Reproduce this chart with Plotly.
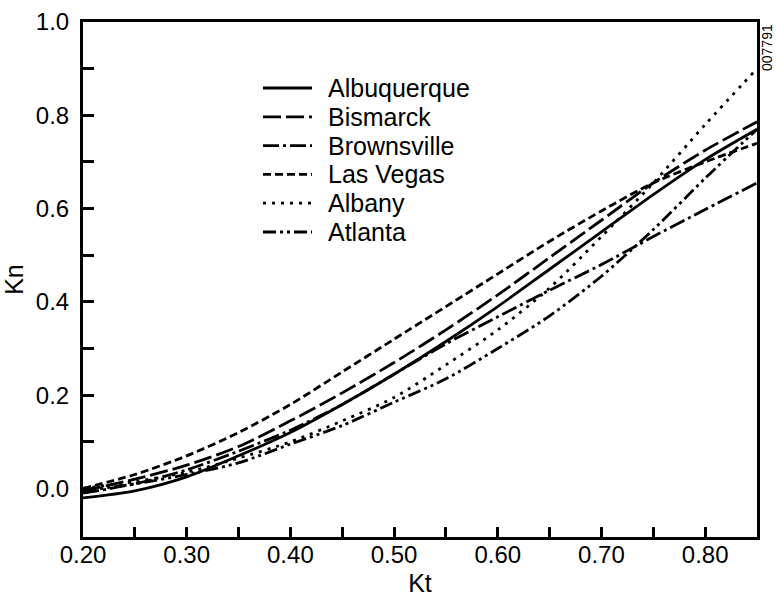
import plotly.graph_objects as go

kt = [0.20, 0.25, 0.30, 0.35, 0.40, 0.45, 0.50, 0.55, 0.60, 0.65, 0.70, 0.75, 0.80, 0.85]

albuquerque = [-0.02, -0.005, 0.025, 0.07, 0.12, 0.18, 0.245, 0.315, 0.39, 0.47, 0.55, 0.63, 0.705, 0.77]
bismarck = [-0.005, 0.02, 0.05, 0.09, 0.145, 0.205, 0.27, 0.34, 0.415, 0.495, 0.575, 0.655, 0.725, 0.786]
brownsville = [-0.01, 0.01, 0.04, 0.08, 0.125, 0.18, 0.245, 0.31, 0.368, 0.425, 0.48, 0.54, 0.598, 0.655]
las_vegas = [0.0, 0.03, 0.07, 0.12, 0.18, 0.25, 0.32, 0.39, 0.46, 0.53, 0.595, 0.655, 0.70, 0.74]
albany = [0.0, 0.015, 0.035, 0.065, 0.10, 0.145, 0.195, 0.265, 0.34, 0.43, 0.54, 0.655, 0.78, 0.90]
atlanta = [-0.005, 0.01, 0.03, 0.055, 0.095, 0.135, 0.185, 0.235, 0.30, 0.37, 0.455, 0.555, 0.665, 0.77]

names = ["Albuquerque", "Bismarck", "Brownsville", "Las Vegas", "Albany", "Atlanta"]
series = [albuquerque, bismarck, brownsville, las_vegas, albany, atlanta]
dashes = ["solid", "18px,5px", "16px,4px,3px,4px", "8px,4px", "3px,6px",
          "13px,4px,3px,4px,3px,4px"]

x_ticks = [0.20, 0.30, 0.40, 0.50, 0.60, 0.70, 0.80]
x_minor = [0.25, 0.35, 0.45, 0.55, 0.65, 0.75]
y_ticks = [0.0, 0.2, 0.4, 0.6, 0.8, 1.0]
y_minor = [0.1, 0.3, 0.5, 0.7, 0.9]

FONT = "Liberation Sans, Arial, sans-serif"
W, H = 776, 602
L, R, T, B = 83, 19, 22, 65
pw, ph = W - L - R, H - T - B

fig = go.Figure()
for name, ys, d in zip(names, series, dashes):
    fig.add_trace(go.Scatter(x=kt, y=ys, mode="lines", name=name,
                             line=dict(color="black", width=2.8, dash=d, shape="spline", smoothing=0.8),
                             showlegend=False))

# manual legend (sample lines + labels), placed in paper coordinates
for i, (name, d) in enumerate(zip(names, dashes)):
    ypx = 88 + i * 28.8
    yp = (H - B - ypx) / ph
    fig.add_shape(type="line", xref="paper", yref="paper",
                  x0=(263 - L) / pw, x1=(312 - L) / pw, y0=yp, y1=yp,
                  line=dict(color="black", width=2.8, dash=d))
    fig.add_annotation(text=name, xref="paper", yref="paper",
                       x=(326 - L) / pw, y=yp, xanchor="left", yanchor="middle",
                       showarrow=False, font=dict(family=FONT, size=25, color="black"))

fig.add_annotation(text="007791", xref="paper", yref="paper",
                   x=(767 - L) / pw, y=(H - B - 48) / ph, textangle=-90,
                   xanchor="center", yanchor="middle", showarrow=False,
                   font=dict(family=FONT, size=14, color="black"))

fig.update_layout(
    width=W, height=H,
    margin=dict(l=L, r=R, t=T, b=B),
    paper_bgcolor="white", plot_bgcolor="white",
    font=dict(family=FONT, size=24, color="black"),
    showlegend=False,
)
fig.update_xaxes(range=[0.20, 0.85], tickvals=x_ticks, tickformat=".2f",
                 ticks="inside", ticklen=10, tickwidth=2.5, tickcolor="black",
                 minor=dict(tickvals=x_minor, ticks="inside", ticklen=10, tickwidth=2.5, tickcolor="black"),
                 showline=True, linewidth=3, linecolor="black", mirror=True,
                 showgrid=False, zeroline=False, automargin=False,
                 title=dict(text="Kt", font=dict(size=25), standoff=8),
                 tickfont=dict(size=24), ticklabelstandoff=-6)
fig.update_yaxes(range=[-0.104, 1.0], tickvals=y_ticks, tickformat=".1f",
                 ticks="inside", ticklen=11, tickwidth=2.5, tickcolor="black",
                 minor=dict(tickvals=y_minor, ticks="inside", ticklen=11, tickwidth=2.5, tickcolor="black"),
                 showline=True, linewidth=3, linecolor="black", mirror=True,
                 showgrid=False, zeroline=False, automargin=False,
                 title=dict(text="Kn", font=dict(size=25), standoff=8),
                 tickfont=dict(size=24), ticklabelstandoff=6)

fig.write_html("out.html")
